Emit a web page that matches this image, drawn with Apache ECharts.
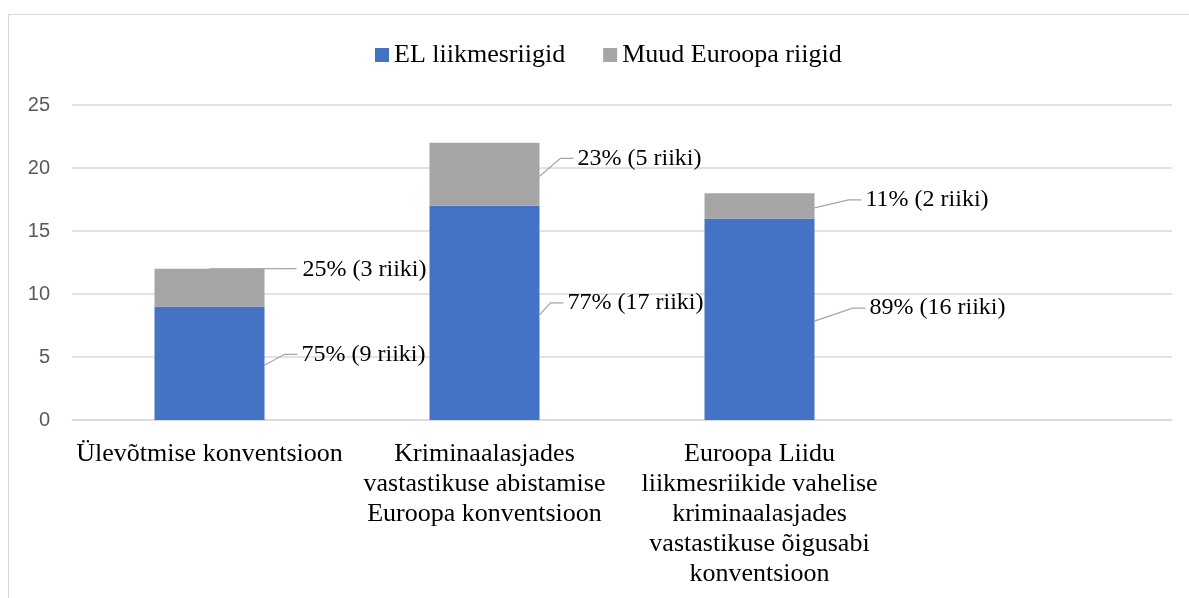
<!DOCTYPE html>
<html>
<head>
<meta charset="utf-8">
<script src="https://cdn.jsdelivr.net/npm/echarts@6/dist/echarts.min.js"></script>
<style>
  html, body { margin: 0; padding: 0; background: #fff; }
  #frame {
    position: absolute; left: 8px; top: 14px; width: 1300px; height: 700px;
    border-left: 1px solid #d9d9d9; border-top: 1px solid #d9d9d9;
  }
  #main { position: absolute; left: 0; top: 0; width: 1189px; height: 598px; }
</style>
</head>
<body>
<div id="frame"></div>
<div id="main"></div>
<script>
// categories (last slot is empty in the original)
const categories = [
  'Ülevõtmise konventsioon',
  'Kriminaalasjades\nvastastikuse abistamise\nEuroopa konventsioon',
  'Euroopa Liidu\nliikmesriikide vahelise\nkriminaalasjades\nvastastikuse õigusabi\nkonventsioon',
  ''
]
const seriesNames = ['EL liikmesriigid', 'Muud Euroopa riigid']
const euValues = [9, 17, 16, null]
const otherValues = [3, 5, 2, null]
const yTicks = [0, 5, 10, 15, 20, 25]

// label nudges (px), relative to bar right edge / segment middle
const labelDx = [[37, 28, 55], [38, 38, 51]]
const labelDy = [[-9, -10, -11], [-18, -16, -6]]

const serif = '"Liberation Serif", "Times New Roman", serif'
const barFrac = 0.4

var myChart = echarts.init(document.getElementById('main'))

function pctLabel(p) {
  let total = (euValues[p.dataIndex] || 0) + (otherValues[p.dataIndex] || 0)
  let pct = Math.round((p.value / total) * 100)
  return pct + '% (' + p.value + ' riiki)'
}

function layoutFor(s) {
  return function (params) {
    let r = params.rect
    return {
      x: r.x + r.width + labelDx[s][params.dataIndex],
      y: r.y + r.height / 2 + labelDy[s][params.dataIndex],
      align: 'left',
      verticalAlign: 'middle',
    }
  }
}

function makeSeries(s, data, color) {
  return {
    name: seriesNames[s],
    type: 'bar',
    stack: 'total',
    barWidth: barFrac * 100 + '%',
    data: data,
    itemStyle: { color: color },
    label: {
      show: true,
      position: 'right',
      formatter: pctLabel,
      fontFamily: serif,
      fontSize: 24,
      color: '#000',
    },
    labelLayout: layoutFor(s),
  }
}

// leader lines: [category, segment bottom, segment top, series]
let leaders = []
euValues.forEach((v, i) => {
  if (v == null) return
  leaders.push([i, 0, v, 0])
  leaders.push([i, v, v + otherValues[i], 1])
})

let option = {
  animation: false,
  legend: {
    data: seriesNames,
    left: 370,
    top: 37,
    icon: 'rect',
    itemWidth: 14,
    itemHeight: 14,
    itemGap: 38,
    textStyle: { fontFamily: serif, fontSize: 26, color: '#000' },
  },
  grid: { left: 72, right: 17, top: 105, bottom: 178, containLabel: false },
  xAxis: {
    type: 'category',
    data: categories,
    axisLine: { lineStyle: { color: '#d9d9d9', width: 1.5 } },
    axisTick: { show: false },
    axisLabel: {
      interval: 0,
      fontFamily: serif,
      fontSize: 26,
      color: '#000',
      lineHeight: 30,
      margin: 19,
    },
  },
  yAxis: {
    type: 'value',
    min: yTicks[0],
    max: yTicks[yTicks.length - 1],
    interval: 5,
    axisLine: { show: false },
    axisTick: { show: false },
    splitLine: { lineStyle: { color: '#d9d9d9', width: 1.5 } },
    axisLabel: {
      fontFamily: '"Liberation Sans", Arial, sans-serif',
      fontSize: 20,
      color: '#595959',
      margin: 22,
    },
  },
  series: [
    makeSeries(0, euValues, '#4472C4'),
    makeSeries(1, otherValues, '#A5A5A5'),
    {
      type: 'custom',
      silent: true,
      z: 5,
      data: leaders,
      encode: { x: 0, y: 2 },
      renderItem: function (params, api) {
        let i = api.value(0)
        let s = api.value(3)
        let pLo = api.coord([i, api.value(1)])
        let pHi = api.coord([i, api.value(2)])
        let half = (api.size([1, 0])[0] * barFrac) / 2
        let right = pLo[0] + half
        let mid = (pLo[1] + pHi[1]) / 2
        let lx = right + labelDx[s][i]
        let ly = mid + labelDy[s][i]
        let pts
        if (ly <= pHi[1] + 4) {
          // label level with the segment top: start from its top middle
          pts = [[pLo[0], pHi[1]], [lx - 6, ly - 1]]
        } else {
          pts = [[right, mid + 2], [lx - 17, ly], [lx - 4, ly]]
        }
        return {
          type: 'polyline',
          shape: { points: pts },
          style: { stroke: '#a6a6a6', lineWidth: 1.3, fill: null },
        }
      },
    },
  ],
}
myChart.setOption(option)
</script>
</body>
</html>
